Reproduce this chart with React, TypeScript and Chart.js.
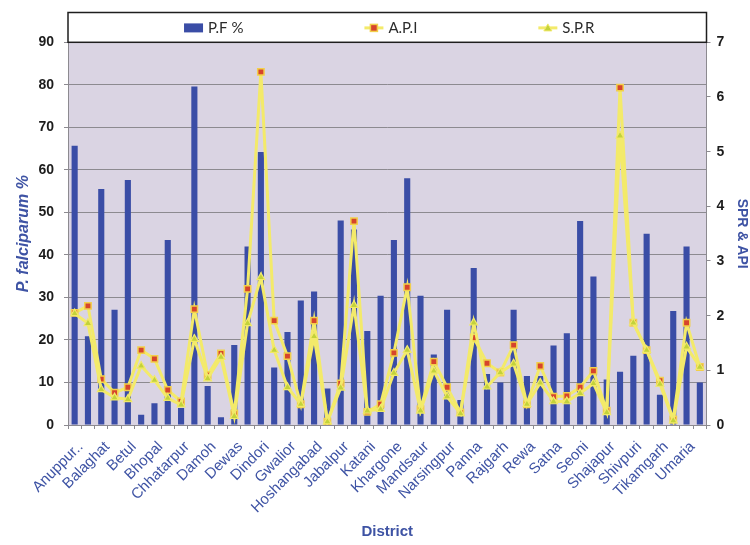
import React, { useEffect, useRef } from "react";
import { Chart, registerables } from "chart.js";

Chart.register(...registerables);

const districts = [
  "Anuppur..", "Ashoknagar", "Balaghat", "Barwani", "Betul", "Bhind", "Bhopal", "Burhanpur",
  "Chhatarpur", "Chhindwara", "Damoh", "Datia", "Dewas", "Dhar", "Dindori", "Guna",
  "Gwalior", "Harda", "Hoshangabad", "Indore", "Jabalpur", "Jhabua", "Katani", "Khandwa",
  "Khargone", "Mandla", "Mandsaur", "Morena", "Narsingpur", "Neemuch", "Panna", "Raisen",
  "Rajgarh", "Ratlam", "Rewa", "Sagar", "Satna", "Sehore", "Seoni", "Shahdol",
  "Shajapur", "Sheopur", "Shivpuri", "Sidhi", "Tikamgarh", "Ujjain", "Umaria", "Vidisha",
];

const pfPercent = [
  65.7, 20.9, 55.5, 27.1, 57.6, 2.4, 5.1, 43.5,
  4.0, 79.6, 9.2, 1.8, 18.8, 42.0, 64.2, 13.5,
  21.9, 29.3, 31.4, 8.6, 48.1, 46.0, 22.1, 30.4,
  43.5, 58.0, 30.4, 16.6, 27.1, 5.9, 36.9, 12.0,
  10.0, 27.1, 11.5, 11.5, 18.7, 21.6, 48.0, 34.9,
  10.7, 12.5, 16.3, 45.0, 7.1, 26.8, 42.0, 10.0,
];

const apiValues = [
  2.05, 2.18, 0.84, 0.59, 0.69, 1.37, 1.21, 0.64,
  0.43, 2.12, 0.91, 1.31, 0.21, 2.49, 6.46, 1.91,
  1.26, 0.38, 1.91, 0.06, 0.76, 3.73, 0.24, 0.38,
  1.32, 2.52, 0.29, 1.16, 0.69, 0.23, 1.6, 1.13,
  0.96, 1.46, 0.38, 1.08, 0.52, 0.53, 0.69, 0.99,
  0.26, 6.17, 1.87, 1.37, 0.81, 0.1, 1.87, 1.06,
];

const sprValues = [
  2.04, 1.86, 0.65, 0.5, 0.47, 1.08, 0.82, 0.49,
  0.37, 1.57, 0.85, 1.24, 0.16, 1.86, 2.7, 1.37,
  0.69, 0.38, 1.62, 0.06, 0.68, 2.19, 0.26, 0.29,
  0.95, 1.37, 0.26, 0.99, 0.52, 0.21, 1.87, 0.7,
  0.96, 1.12, 0.38, 0.77, 0.43, 0.43, 0.58, 0.76,
  0.23, 5.29, 1.87, 1.37, 0.75, 0.08, 1.43, 1.06,
];

const seriesNames = ["P.F %", "A.P.I", "S.P.R"];
const leftAxisMax = 90;
const leftAxisStep = 10;
const rightAxisMax = 7;
const rightAxisStep = 1;

const BLUE_BAR = "#3A4DA6";
const TITLE_BLUE = "#3E53A4";
const LINE_YELLOW = "#F3EA6A";
const API_RED = "#D6442C";
const API_EDGE = "#F2CF4A";
const SPR_FILL = "#C3D23A";
const SPR_EDGE = "#F1E96A";
const GRID = "#8C8A90";
const FONT = "'Liberation Sans', Arial, sans-serif";

const plotBackground = {
  id: "plotBackground",
  beforeDraw(chart: any) {
    const { ctx, chartArea } = chart;
    ctx.save();
    ctx.fillStyle = "#DAD4E3";
    ctx.fillRect(chartArea.left, chartArea.top, chartArea.right - chartArea.left, chartArea.bottom - chartArea.top);
    ctx.restore();
  },
};

const boxedLegend = {
  id: "boxedLegend",
  afterDraw(chart: any) {
    const { ctx, chartArea } = chart;
    const top = 12.5;
    const bottom = chartArea.top;
    const left = chartArea.left;
    const width = chartArea.right - chartArea.left;
    ctx.save();
    ctx.fillStyle = "#ffffff";
    ctx.fillRect(left, top, width, bottom - top);
    ctx.strokeStyle = "#1e1e1e";
    ctx.lineWidth = 1.5;
    ctx.strokeRect(left, top, width, bottom - top);

    ctx.font = `15px Lato, ${FONT}`;
    const markerW = 19;
    const markGap = 5;
    const itemGap = 121;
    const widths = seriesNames.map((n) => markerW + markGap + ctx.measureText(n).width);
    const total = widths.reduce((a, b) => a + b, 0) + itemGap * (widths.length - 1);
    let x = left + width / 2 + 2 - total / 2;
    const cy = (top + bottom) / 2 + 0.5;
    seriesNames.forEach((name, i) => {
      if (i === 0) {
        ctx.fillStyle = BLUE_BAR;
        ctx.fillRect(x, cy - 4.5, markerW, 9);
      } else {
        ctx.strokeStyle = LINE_YELLOW;
        ctx.lineWidth = 3;
        ctx.beginPath();
        ctx.moveTo(x, cy);
        ctx.lineTo(x + markerW, cy);
        ctx.stroke();
        const mx = x + markerW / 2;
        if (i === 1) {
          ctx.fillStyle = API_RED;
          ctx.strokeStyle = API_EDGE;
          ctx.lineWidth = 1.5;
          ctx.fillRect(mx - 3.5, cy - 3.5, 7, 7);
          ctx.strokeRect(mx - 3.5, cy - 3.5, 7, 7);
        } else {
          ctx.fillStyle = SPR_FILL;
          ctx.strokeStyle = SPR_EDGE;
          ctx.lineWidth = 1;
          ctx.beginPath();
          ctx.moveTo(mx, cy - 4);
          ctx.lineTo(mx + 4, cy + 3);
          ctx.lineTo(mx - 4, cy + 3);
          ctx.closePath();
          ctx.fill();
          ctx.stroke();
        }
      }
      ctx.fillStyle = "#2b2b2b";
      ctx.textBaseline = "middle";
      ctx.textAlign = "left";
      ctx.fillText(name, x + markerW + markGap, cy + 0.5);
      x += widths[i] + itemGap;
    });
    ctx.restore();
  },
};

export default function App() {
  const canvasRef = useRef<HTMLCanvasElement | null>(null);

  useEffect(() => {
    const canvas = canvasRef.current;
    if (!canvas) return;
    const chart = new Chart(canvas, {
      type: "bar",
      data: {
        labels: districts,
        datasets: [
          {
            type: "line",
            label: seriesNames[2],
            data: sprValues,
            yAxisID: "yRight",
            borderColor: LINE_YELLOW,
            borderWidth: 3,
            pointStyle: "triangle",
            pointRadius: 4.5,
            pointBackgroundColor: SPR_FILL,
            pointBorderColor: SPR_EDGE,
            pointBorderWidth: 1.2,
            tension: 0,
            order: 1,
          },
          {
            type: "line",
            label: seriesNames[1],
            data: apiValues,
            yAxisID: "yRight",
            borderColor: LINE_YELLOW,
            borderWidth: 3,
            pointStyle: "rect",
            pointRadius: 4.5,
            pointBackgroundColor: API_RED,
            pointBorderColor: API_EDGE,
            pointBorderWidth: 1.5,
            tension: 0,
            order: 2,
          },
          {
            type: "bar",
            label: seriesNames[0],
            data: pfPercent,
            yAxisID: "yLeft",
            backgroundColor: BLUE_BAR,
            barPercentage: 0.46,
            categoryPercentage: 1,
            order: 3,
          },
        ],
      },
      options: {
        animation: false,
        responsive: false,
        maintainAspectRatio: false,
        layout: { padding: { top: 42.3, left: 0, right: 0, bottom: 0 } },
        plugins: {
          legend: { display: false },
          tooltip: { enabled: false },
        },
        scales: {
          x: {
            offset: true,
            grid: {
              display: true,
              offset: true,
              drawOnChartArea: false,
              drawTicks: true,
              tickLength: 4,
              color: GRID,
            },
            border: { display: true, color: GRID, width: 1 },
            ticks: {
              autoSkip: false,
              minRotation: 45,
              maxRotation: 45,
              padding: 9,
              labelOffset: 6,
              color: TITLE_BLUE,
              font: { family: FONT, size: 15 },
              callback: (_v: any, i: number) => (i % 2 === 0 ? districts[i] : ""),
            },
            title: {
              display: true,
              text: "District",
              color: TITLE_BLUE,
              font: { family: FONT, size: 15, weight: "bold" },
              padding: { top: 0, bottom: 4 },
            },
            afterFit: (s: any) => {
              s.height = 120;
            },
          },
          yLeft: {
            type: "linear",
            position: "left",
            min: 0,
            max: leftAxisMax,
            ticks: {
              stepSize: leftAxisStep,
              color: "#1c1c1c",
              padding: 10,
              font: { family: FONT, size: 14, weight: "bold" },
            },
            grid: { color: GRID, lineWidth: 1, tickLength: 4 },
            border: { display: true, color: GRID },
            title: {
              display: true,
              text: "P. falciparum %",
              color: TITLE_BLUE,
              font: { family: FONT, size: 16, weight: "bold", style: "italic" },
              padding: { top: 14, bottom: 0 },
            },
            afterFit: (s: any) => {
              s.width = 68;
            },
          },
          yRight: {
            type: "linear",
            position: "right",
            min: 0,
            max: rightAxisMax,
            ticks: {
              stepSize: rightAxisStep,
              color: "#1c1c1c",
              padding: 6,
              font: { family: FONT, size: 14, weight: "bold" },
            },
            grid: { drawOnChartArea: false, color: GRID, tickLength: 4 },
            border: { display: true, color: GRID },
            title: {
              display: true,
              text: "SPR & API",
              color: TITLE_BLUE,
              font: { family: FONT, size: 14, weight: "bold" },
              padding: { top: 0, bottom: 0 },
            },
            afterFit: (s: any) => {
              s.width = 43.5;
            },
          },
        },
      },
      plugins: [plotBackground, boxedLegend],
    } as any);
    return () => chart.destroy();
  }, []);

  return (
    <div style={{ position: "fixed", left: 0, top: 0, width: 750, height: 545 }}>
      <canvas ref={canvasRef} width={750} height={545} style={{ width: 750, height: 545 }} />
    </div>
  );
}
